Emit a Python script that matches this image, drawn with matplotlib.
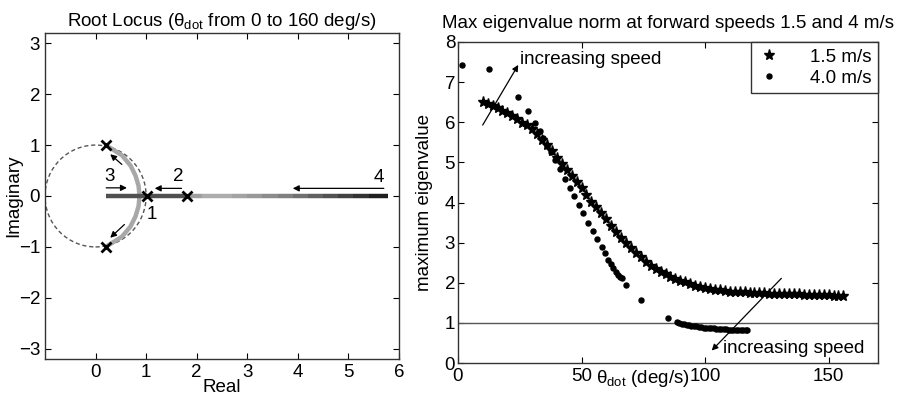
import numpy as np
import matplotlib
matplotlib.use("Agg")
import matplotlib.pyplot as plt
from matplotlib.patches import Circle
from matplotlib.collections import LineCollection

plt.rcParams["font.family"] = ["Liberation Sans", "DejaVu Sans"]
plt.rcParams["mathtext.fontset"] = "custom"
plt.rcParams["mathtext.rm"] = "Liberation Sans"
plt.rcParams["mathtext.it"] = "Liberation Sans:italic"
plt.rcParams["mathtext.bf"] = "Liberation Sans:bold"

FS = 13.5

# ---- root locus data (left) ----
poles_x = [0.2, 0.2, 1.02, 1.8]
poles_y = [1.0, -1.0, 0.0, 0.0]

branch123_x = [0.2, 1.8]
branch123_y = [0.0, 0.0]

branch4_x = [1.8, 2.1, 2.4, 2.7, 3.0, 3.3, 3.6, 3.9, 4.2, 4.5, 4.8, 5.1,
             5.4, 5.78]
branch4_gray = [0.62, 0.68, 0.68, 0.64, 0.6, 0.55, 0.5, 0.44, 0.38, 0.32,
                0.26, 0.2, 0.12, 0.05]

arc_x = [0.2, 0.52, 0.69, 0.79, 0.85, 0.87, 0.85, 0.79, 0.69, 0.52, 0.2]
arc_y = [1.0, 0.8, 0.6, 0.4, 0.2, 0.0, -0.2, -0.4, -0.6, -0.8, -1.0]

# (label, label_x, label_y, arrow_from_x, arrow_to_x, arrow_y)
branch_labels = [
    ("3", 0.28, 0.39, 0.21, 0.62, 0.16),
    ("2", 1.63, 0.39, 1.70, 1.17, 0.15),
    ("4", 5.60, 0.37, 5.70, 3.90, 0.15),
]
label1_xy = (1.12, -0.36)
arc_arrows = [((0.52, 0.62), (0.29, 0.82)), ((0.57, -0.56), (0.29, -0.82))]

# ---- max eigenvalue data (right) ----
thdot_15 = [10, 12, 14, 16, 18, 20, 22, 24, 26, 28, 30, 32, 34, 36, 38, 40,
            42, 44, 46, 48, 50, 52, 54, 56, 58, 60, 62, 64, 66, 68, 70, 72,
            74, 76, 78, 80, 82, 84, 86, 88, 90, 92, 94, 96, 98, 100, 102, 104,
            106, 108, 110, 112, 114, 116, 118, 120, 122, 124, 126, 128, 130,
            132, 134, 136, 138, 140, 142, 144, 146, 148, 150, 152, 154, 156]
eig_15 = [6.50, 6.45, 6.40, 6.35, 6.28, 6.22, 6.15, 6.07, 5.99, 5.92, 5.82,
          5.70, 5.57, 5.43, 5.28, 5.12, 4.97, 4.81, 4.65, 4.50, 4.35, 4.18,
          4.02, 3.90, 3.74, 3.58, 3.42, 3.27, 3.12, 2.99, 2.87, 2.74, 2.63,
          2.52, 2.42, 2.34, 2.27, 2.21, 2.15, 2.10, 2.05, 2.01, 1.97, 1.93,
          1.90, 1.87, 1.85, 1.83, 1.81, 1.80, 1.78, 1.77, 1.76, 1.76, 1.75,
          1.75, 1.74, 1.74, 1.73, 1.73, 1.72, 1.72, 1.71, 1.71, 1.71, 1.70,
          1.70, 1.70, 1.69, 1.69, 1.69, 1.68, 1.68, 1.68]

thdot_40 = [1.5, 12.7, 24.4, 28.5, 31.2, 33.0, 34.5, 36.0, 37.5, 39.3, 41.3,
            43.3, 45.2, 47.1, 49.0, 50.7, 52.8, 54.5, 56.3, 58.2, 59.5, 60.8,
            61.8, 62.8, 63.8, 64.9, 65.5, 66.2, 68.0, 73.9, 84.9, 88.5, 89.5,
            90.5, 91.5, 92.5, 93.5, 94.5, 95.5, 96.5, 97.5, 98.5, 99.5, 100.5,
            101.5, 102.5, 103.5, 104.5, 105.5, 106.5, 107.5, 108.5, 109.5,
            110.5, 111.5, 112.5, 113.5, 114.5, 115.5, 116.5, 117.0]
eig_40 = [7.42, 7.33, 6.62, 6.27, 5.98, 5.78, 5.60, 5.42, 5.25, 5.06, 4.83,
          4.59, 4.37, 4.15, 3.93, 3.73, 3.48, 3.28, 3.08, 2.90, 2.73, 2.57,
          2.46, 2.36, 2.27, 2.19, 2.15, 2.11, 1.95, 1.57, 1.11, 1.02, 0.99,
          0.98, 0.96, 0.95, 0.94, 0.93, 0.92, 0.91, 0.90, 0.89, 0.88, 0.87,
          0.87, 0.86, 0.86, 0.85, 0.85, 0.84, 0.84, 0.84, 0.83, 0.83, 0.83,
          0.82, 0.82, 0.82, 0.82, 0.81, 0.81]

speed_labels = ["1.5 m/s", "4.0 m/s"]
unit_level = 1.0

fig = plt.figure(figsize=(8.98, 4.0), dpi=100)


def matlab_box(ax):
    ax.tick_params(direction="in", top=True, right=True, length=4,
                   width=0.8, labelsize=FS, colors="black")
    for s in ax.spines.values():
        s.set_linewidth(1.0)
        s.set_color("#333333")


# ---------------- left: root locus ----------------
ax1 = fig.add_axes([0.0501, 0.1025, 0.3942, 0.815])
ax1.add_patch(Circle((0, 0), 1.0, fill=False, ls=(0, (3, 2)), lw=1.0,
                     ec="#555555"))
ax1.plot(arc_x, arc_y, color="#a8a8a8", lw=3.2, solid_capstyle="butt")
ax1.plot(branch123_x, branch123_y, color="#505050", lw=3.2,
         solid_capstyle="butt")
segs = [[(branch4_x[i], 0), (branch4_x[i + 1], 0)]
        for i in range(len(branch4_x) - 1)]
cols = [str(g) for g in branch4_gray[:-1]]
ax1.add_collection(LineCollection(segs, colors=cols, linewidths=3.2))
ax1.plot(poles_x, poles_y, "x", color="black", ms=7, mew=2.0)

arrow_kw = dict(arrowstyle="-|>", lw=0.9, color="black", mutation_scale=9,
                shrinkA=0, shrinkB=0)
for lab, lx, ly, x0, x1, ay in branch_labels:
    ax1.annotate("", xy=(x1, ay), xytext=(x0, ay), arrowprops=arrow_kw)
    ax1.text(lx, ly, lab, fontsize=FS, ha="center", va="center")
ax1.text(label1_xy[0], label1_xy[1], "1", fontsize=FS, ha="center",
         va="center")
for (x0, y0), (x1, y1) in arc_arrows:
    ax1.annotate("", xy=(x1, y1), xytext=(x0, y0), arrowprops=arrow_kw)

ax1.set_xlim(-1, 6)
ax1.set_ylim(-3.2, 3.2)
ax1.set_xticks(range(0, 7))
ax1.set_yticks(range(-3, 4))
matlab_box(ax1)
ax1.set_title(r"Root Locus ($\mathrm{\theta}_{\mathrm{dot}}$ from 0 to 160 deg/s)",
              fontsize=FS, pad=5)
ax1.set_xlabel("Real", fontsize=FS)
ax1.xaxis.set_label_coords(0.5, -0.06)
ax1.set_ylabel("Imaginary", fontsize=FS)
ax1.yaxis.set_label_coords(-0.065, 0.5)

# ---------------- right: max eigenvalue ----------------
ax2 = fig.add_axes([0.510, 0.0925, 0.4677, 0.8025])
ax2.axhline(unit_level, color="#555555", lw=1.0)
ax2.plot(thdot_15, eig_15, "*", color="black", ms=8, label=speed_labels[0])
ax2.plot(thdot_40, eig_40, "o", color="black", ms=3.6, label=speed_labels[1])

ax2.annotate("", xy=(24.4, 7.43), xytext=(10, 5.93), arrowprops=arrow_kw)
ax2.text(25.1, 7.56, "increasing speed", fontsize=FS, ha="left", va="center")
ax2.annotate("", xy=(102.7, 0.31), xytext=(130.9, 2.11), arrowprops=arrow_kw)
ax2.text(107.4, 0.37, "increasing speed", fontsize=FS, ha="left",
         va="center")

ax2.set_xlim(0, 170)
ax2.set_ylim(0, 8)
ax2.set_xticks([0, 50, 100, 150])
ax2.set_yticks(range(0, 9))
matlab_box(ax2)
ax2.tick_params(axis="y", pad=2)
ax2.set_title("Max eigenvalue norm at forward speeds 1.5 and 4 m/s",
              fontsize=FS, pad=10)
ax2.set_xlabel(r"$\mathrm{\theta}_{\mathrm{dot}}$ (deg/s)", fontsize=FS)
ax2.xaxis.set_label_coords(0.44, -0.015)
ax2.set_ylabel("maximum eigenvalue", fontsize=FS)
ax2.yaxis.set_label_coords(-0.06, 0.5)

leg = ax2.legend(loc="upper right", fontsize=FS, borderaxespad=0,
                 fancybox=False, edgecolor="#333333", framealpha=1,
                 handlelength=1.2, handletextpad=1.6, labelspacing=0.2,
                 borderpad=0.35, markerscale=1.0)
leg.get_frame().set_linewidth(1.0)

fig.savefig("out.png", dpi=100)
